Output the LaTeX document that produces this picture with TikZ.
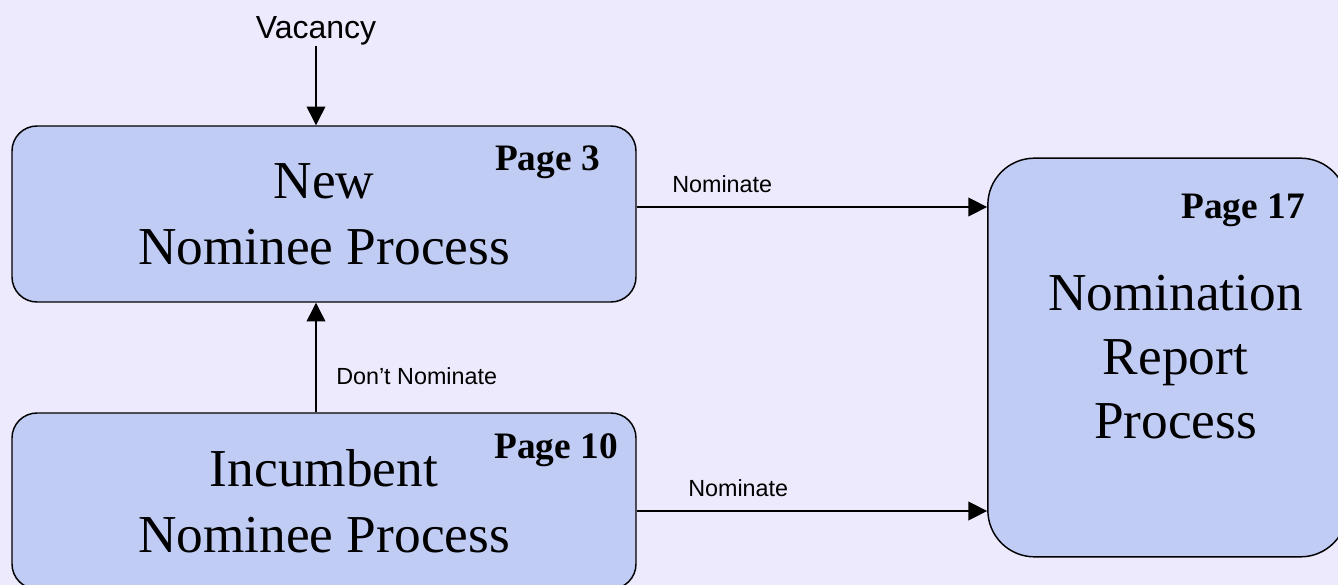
\documentclass[tikz,border=0pt]{standalone}
\usepackage{fontspec}
\setmainfont{Liberation Serif}
\newfontfamily\labelfont{Liberation Sans}
\usetikzlibrary{arrows.meta,positioning}

\definecolor{pagebg}{RGB}{236,234,252}
\definecolor{boxfill}{RGB}{193,204,245}

\tikzset{
	procbox/.style={draw=black, line width=1.1pt, fill=boxfill, rounded corners=18.75pt,
		align=center, inner sep=0pt, font=\fontsize{40}{49.5}\selectfont},
	pagenum/.style={font=\fontsize{28}{34}\selectfont\bfseries, inner sep=0pt, anchor=base east},
	flowlabel/.style={font=\labelfont\fontsize{17.5}{21}\selectfont, inner sep=0pt, anchor=base west},
	flow/.style={line width=1.1pt, -{Triangle[length=14pt,width=14pt]}},
}

\begin{document}
\begin{tikzpicture}[x=0.75pt,y=-0.75pt]
	\fill[pagebg] (0,0) rectangle (1338,585);
	\useasboundingbox (0,0) rectangle (1338,585);

	% the three process boxes
	\node[procbox, minimum width=468pt, minimum height=132pt] (new) at (324,214) {New\\Nominee Process};
	\node[procbox, minimum width=468pt, minimum height=132pt] (inc) at (324,501) {Incumbent\\Nominee Process};
	\node[procbox, rounded corners=35pt, minimum width=269.5pt, minimum height=299pt,
		font=\fontsize{40}{48}\selectfont] (report) at (1167.5,357.5) {\hspace*{12pt}Nomination\\\hspace*{12pt}Report\\\hspace*{12pt}Process};

	\node[pagenum] (p3) at (600,170) {Page 3};
	\node[pagenum] (p10) at (618,458) {Page 10};
	\node[pagenum] (p17) at (1305,218) {Page 17};

	% input
	\node[font=\labelfont\fontsize{24}{29}\selectfont, inner sep=0pt] (vacancy) at (316,31) {Vacancy};
	\draw[flow] (vacancy) -- (vacancy |- new.north);

	% flows
	\draw[flow] ([xshift=-6pt]inc.north) -- ([xshift=-6pt]new.south);
	\node[flowlabel] (dont) at (336,384) {Don’t Nominate};

	\draw[flow] ([yshift=5.25pt]new.east) -- ([yshift=5.25pt]new.east -| report.west);
	\node[flowlabel] (nom1) at (672,192) {Nominate};
	\draw[flow] ([yshift=-7.5pt]inc.east) -- ([yshift=-7.5pt]inc.east -| report.west);
	\node[flowlabel] (nom2) at (688,496) {Nominate};
\end{tikzpicture}
\end{document}
